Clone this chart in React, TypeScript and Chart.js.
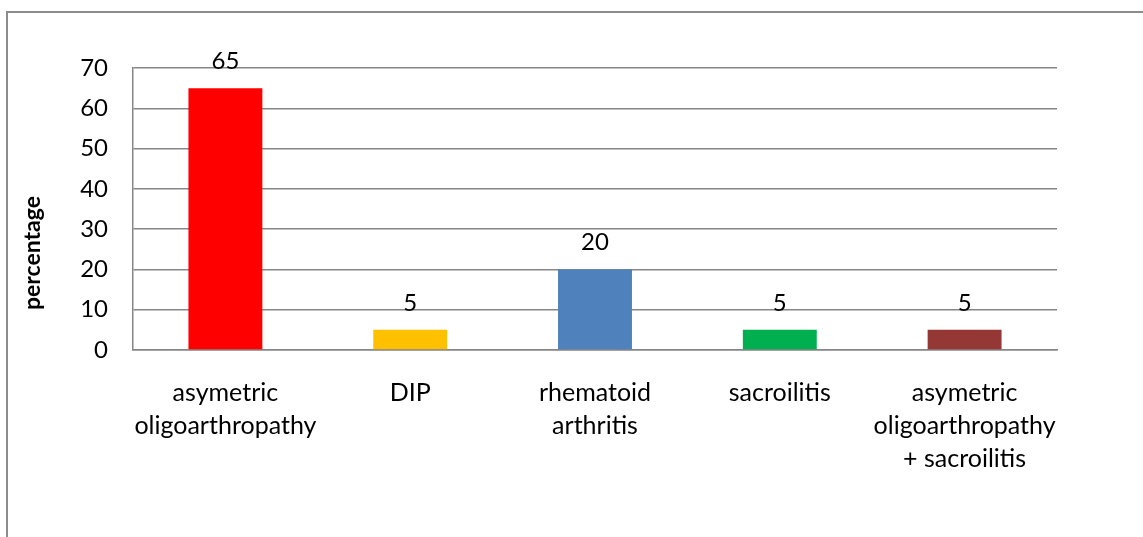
import React, { useEffect, useRef } from "react";
import { Chart, registerables } from "chart.js";

Chart.register(...registerables);

const categories: string[][] = [
  ["asymetric", "oligoarthropathy"],
  ["DIP"],
  ["rhematoid", "arthritis"],
  ["sacroilitis"],
  ["asymetric", "oligoarthropathy", "+ sacroilitis"],
];
const values: number[] = [65, 5, 20, 5, 5];
const barColors: string[] = ["#FF0000", "#FFC000", "#4F81BD", "#00B050", "#953735"];
const yTitle = "percentage";
const yMin = 0;
const yMax = 70;
const yStep = 10;

const FONT = "Lato, 'Open Sans', sans-serif";

const framePlugin = {
  id: "frame",
  beforeDraw(chart: any) {
    const ctx = chart.ctx;
    ctx.save();
    ctx.strokeStyle = "#8c8c8c";
    ctx.lineWidth = 2;
    ctx.strokeRect(7, 12, 3000, 3000);
    ctx.restore();
  },
};

const labelsPlugin = {
  id: "valueLabels",
  afterDatasetsDraw(chart: any) {
    const ctx = chart.ctx;
    ctx.save();
    ctx.fillStyle = "#000";
    ctx.font = `24px ${FONT}`;
    ctx.textAlign = "center";
    ctx.textBaseline = "middle";
    const meta = chart.getDatasetMeta(0);
    meta.data.forEach((bar: any, i: number) => {
      ctx.fillText(String(chart.data.datasets[0].data[i]), bar.x, bar.y - 27);
    });
    // y axis title
    ctx.font = `bold 23px ${FONT}`;
    ctx.translate(33, 253);
    ctx.rotate(-Math.PI / 2);
    ctx.fillText(yTitle, 0, 0);
    ctx.restore();
  },
};

export default function App() {
  const ref = useRef<HTMLCanvasElement | null>(null);
  useEffect(() => {
    if (!ref.current) return;
    const chart = new Chart(ref.current, {
      type: "bar",
      data: {
        labels: categories,
        datasets: [
          {
            data: values,
            backgroundColor: barColors,
            categoryPercentage: 1,
            barPercentage: 0.4,
          },
        ],
      },
      options: {
        animation: false,
        responsive: true,
        maintainAspectRatio: false,
        layout: { padding: { left: 0, right: 86, top: 68, bottom: 0 } },
        plugins: { legend: { display: false }, tooltip: { enabled: false } },
        scales: {
          x: {
            grid: { display: false, drawTicks: false },
            border: { display: true, color: "#868686", width: 1.5 },
            ticks: {
              color: "#000",
              font: { family: FONT, size: 25, lineHeight: "33px" as any },
              padding: 26,
              maxRotation: 0,
              autoSkip: false,
            },
            afterFit(scale: any) {
              scale.height = 187;
            },
          },
          y: {
            min: yMin,
            max: yMax,
            grid: { color: "#868686", lineWidth: 1.5, drawTicks: false },
            border: { display: true, color: "#868686", width: 1.5 },
            ticks: {
              stepSize: yStep,
              color: "#000",
              font: { family: FONT, size: 24 },
              padding: 25,
            },
            afterFit(scale: any) {
              scale.width = 133;
            },
          },
        },
      },
      plugins: [framePlugin, labelsPlugin],
    });
    return () => chart.destroy();
  }, []);
  return (
    <div style={{ position: "fixed", left: 0, top: 0, width: 1143, height: 537, background: "#fff" }}>
      <canvas ref={ref} />
    </div>
  );
}
